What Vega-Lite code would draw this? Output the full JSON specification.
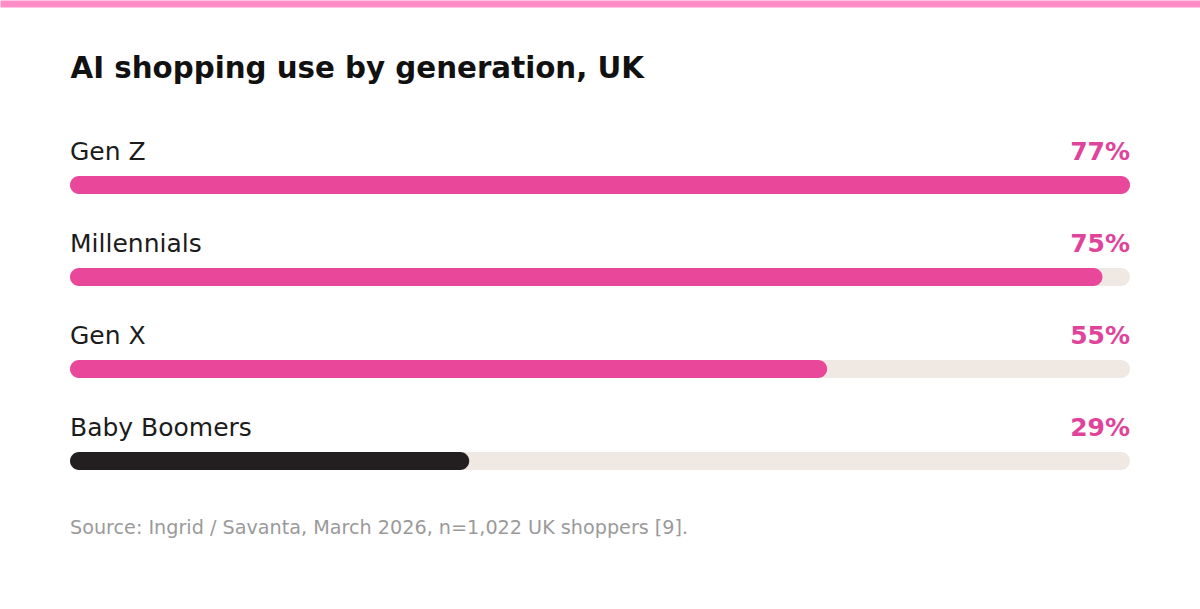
{
  "$schema": "https://vega.github.io/schema/vega-lite/v6.json",
  "width": 1200,
  "height": 368,
  "autosize": {"type": "none"},
  "padding": {"left": 0, "top": 130, "right": 0, "bottom": 111},
  "background": "#ffffff",
  "config": {"view": {"stroke": null}, "font": "DejaVu Sans"},
  "title": {
    "text": "Source: Ingrid / Savanta, March 2026, n=1,022 UK shoppers [9].",
    "orient": "bottom",
    "anchor": "start",
    "frame": "group",
    "dx": 70,
    "font": "DejaVu Sans",
    "fontSize": 19.2,
    "fontWeight": 400,
    "color": "#9a9a9a",
    "baseline": "top",
    "offset": 21
  },
  "data": {
    "values": [
      {"generation": "Gen Z", "pct": 77, "group": "young"},
      {"generation": "Millennials", "pct": 75, "group": "young"},
      {"generation": "Gen X", "pct": 55, "group": "young"},
      {"generation": "Baby Boomers", "pct": 29, "group": "old"}
    ]
  },
  "transform": [
    {"joinaggregate": [{"op": "max", "field": "pct", "as": "maxpct"}]},
    {"calculate": "datum.pct + '%'", "as": "label"}
  ],
  "encoding": {
    "y": {
      "field": "generation",
      "type": "nominal",
      "sort": null,
      "scale": {"paddingInner": 0, "paddingOuter": 0},
      "axis": null
    }
  },
  "layer": [
    {
      "mark": {"type": "bar", "height": 18, "cornerRadius": 9, "yOffset": 9, "color": "#f0e8e2"},
      "encoding": {
        "x": {
          "field": "maxpct",
          "type": "quantitative",
          "scale": {"domain": [-5.0849057, 82.0849057], "nice": false, "zero": false},
          "axis": {
            "orient": "top",
            "offset": 126.5,
            "domain": true, "domainColor": "#ff8ec8", "domainWidth": 7, "domainCap": "butt",
            "ticks": false, "labels": false, "grid": false,
            "title": "AI shopping use by generation, UK",
            "titleX": 70, "titleY": 73.5,
            "titleAlign": "left", "titleAnchor": "start", "titleAngle": 0,
            "titleFont": "DejaVu Sans", "titleFontSize": 29.3, "titleFontWeight": "bold",
            "titleColor": "#111111", "titleBaseline": "alphabetic"
          }
        }
      }
    },
    {
      "mark": {"type": "bar", "height": 18, "cornerRadius": 9, "yOffset": 9},
      "encoding": {
        "x": {"field": "pct", "type": "quantitative"},
        "x2": {"datum": 0},
        "color": {
          "field": "group",
          "type": "nominal",
          "scale": {"domain": ["young", "old"], "range": ["#e8479a", "#231f20"]},
          "legend": null
        }
      }
    },
    {
      "mark": {"type": "text", "align": "left", "baseline": "alphabetic", "dy": -16, "font": "DejaVu Sans", "fontSize": 25, "fontWeight": 400, "color": "#1c1c1c"},
      "encoding": {
        "x": {"datum": 0, "type": "quantitative"},
        "text": {"field": "generation"}
      }
    },
    {
      "mark": {"type": "text", "align": "right", "baseline": "alphabetic", "dy": -16, "font": "DejaVu Sans", "fontSize": 25, "fontWeight": "bold", "color": "#e0449a"},
      "encoding": {
        "x": {"field": "maxpct", "type": "quantitative"},
        "text": {"field": "label"}
      }
    }
  ]
}
